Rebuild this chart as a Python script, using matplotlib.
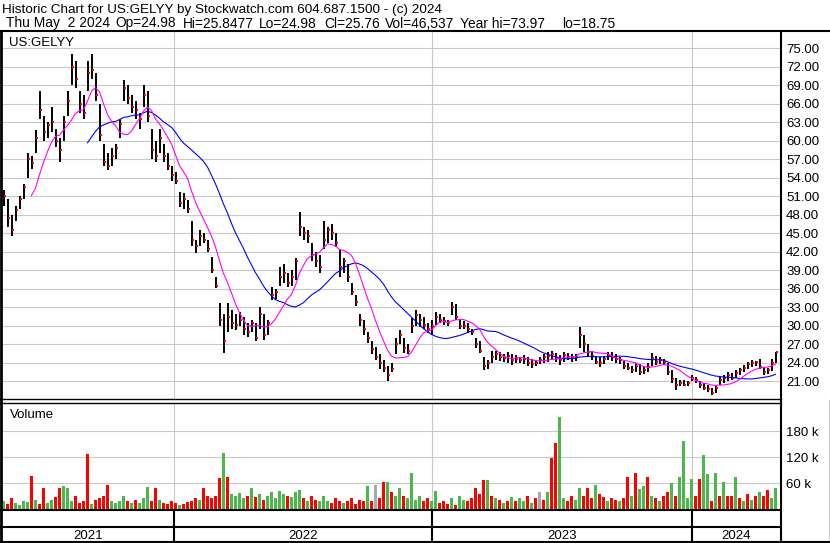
import numpy as np
import pandas as pd
import matplotlib
matplotlib.use("Agg")
import matplotlib.pyplot as plt
from matplotlib.lines import Line2D

plt.rcParams['font.family'] = ['Liberation Sans', 'DejaVu Sans']

W, H = 830, 543

# one bar every 4 trading days
highs = [52, 50.5, 48, 49.5, 51, 53, 58, 57.5, 61.8, 68,
         64, 63, 65.5, 62, 60.5, 64, 68, 74, 73, 68,
         67.5, 73, 74, 71, 66, 59.5, 58, 58.8, 59.5, 63.5,
         69.9, 69, 67.5, 66.5, 64.5, 69, 68, 62, 60, 62,
         59.5, 58, 56, 55, 51.7, 51.5, 50.4, 47, 44, 45.5,
         45, 44, 41.2, 38, 33.7, 32, 33.7, 32.6, 32, 32.2,
         31.5, 30.5, 31, 30.5, 33, 32, 31, 36.3, 36, 39.5,
         40, 38.5, 39, 41, 48.5, 46, 45.5, 43.5, 42, 41.5,
         47, 46, 46.5, 45, 42.3, 41, 40, 37, 35, 32,
         31, 29, 27.5, 26.6, 25.5, 24.5, 23.5, 24, 28, 29.3,
         28, 27, 31.3, 32.6, 32, 31.5, 30.5, 31, 32.2, 32,
         31.5, 31, 33.9, 33.5, 31, 30.8, 30.5, 29.5, 28, 27.5,
         25, 24.5, 26, 26, 25.8, 25.5, 25.8, 25.5, 25.3, 25,
         25.3, 25, 24.6, 24.5, 25, 25.5, 25.8, 26, 25.6, 25.3,
         25.8, 25.6, 25.4, 25.5, 29.9, 28.5, 27, 26, 25.2, 25,
         25.2, 25.8, 25.8, 25.4, 25, 24.3, 24, 23.5, 24, 23.8,
         23.5, 24, 25.6, 25.2, 25, 24.6, 24, 22.8, 21.5, 21.2,
         21.3, 21, 22, 21.8, 21, 20.7, 20.5, 20, 20.5, 21.8,
         22, 22.5, 22.3, 22.8, 23.2, 23.6, 24.2, 24.5, 24.3, 24.6,
         23.4, 23.2, 24.6, 25.85]
lows = [49.5, 46, 44.6, 47, 49, 50.5, 54, 55.5, 58, 63.5,
        60, 60.5, 61.5, 59, 56.5, 60, 64, 69, 68.5, 64.5,
        63.5, 68, 70, 66.5, 60, 56, 55.3, 56, 57, 60.5,
        66.5, 66, 64.5, 63.5, 62, 65.5, 63, 57, 56.5, 58,
        56.5, 55.3, 53.5, 53, 49.3, 49, 48.3, 43, 41.8, 43,
        43.5, 42, 38.5, 36.2, 30, 25.6, 29, 29.5, 29.4, 30,
        28.5, 28.2, 29, 27.5, 29.5, 27.7, 28.5, 34.2, 34.3, 36.5,
        37, 36.3, 36.5, 37.5, 44.5, 44, 43.5, 40.5, 39.5, 38.6,
        42.5, 43.5, 44, 42.8, 38, 38.5, 37.2, 35, 33.2, 30,
        28.5, 27.3, 25.5, 24.5, 23, 22.5, 21, 22.6, 25.5, 27,
        25.6, 25.5, 28.9, 30, 29.8, 29.5, 28.8, 28.6, 30.2, 30.5,
        30.2, 30, 31.8, 31, 29.5, 29.5, 28.8, 28.5, 26.5, 25.6,
        22.9, 23, 24, 24.5, 24.3, 24.2, 24, 23.7, 24, 24,
        23.8, 23.5, 23.2, 23.5, 23.8, 24, 24.2, 24.5, 24.2, 23.7,
        24.2, 24.4, 24.2, 24.3, 26.4, 25.8, 25, 24.5, 23.8, 23.4,
        23.8, 24.5, 24.3, 24, 23.8, 23, 22.8, 22.4, 22.6, 22,
        22.2, 22.5, 23.5, 23.7, 23.8, 23.7, 22, 20.8, 19.6, 20.2,
        20.2, 20.3, 21, 20.8, 20, 19.6, 19.3, 18.75, 19.2, 20.4,
        20.8, 21, 21.2, 21.5, 22, 22.5, 23, 23.4, 23.5, 23,
        22, 22.2, 22.7, 24]
closes = [51, 47.5, 45.5, 48.8, 50.5, 52.5, 57, 56.4, 60.5, 65,
          61.5, 62.5, 63, 60, 58.5, 63, 66.5, 72, 70, 66,
          64.5, 71, 71.5, 67.5, 61, 56.5, 56, 57.5, 58.8, 62.8,
          68.5, 67, 65.5, 65, 63.5, 67.5, 64, 58.5, 57.5, 60.5,
          57.5, 56, 54.5, 53.5, 50, 50.5, 49, 44, 43, 44.5,
          44, 42.5, 39, 36.5, 31, 27.5, 31.5, 30.5, 30.2, 31,
          29.5, 29, 30.5, 28, 32, 28.5, 30.5, 35, 35.5, 38,
          38.5, 37, 38, 40.5, 46, 45, 44.5, 41.5, 40.5, 39.5,
          44, 45.5, 45, 43.5, 39.5, 40.5, 38, 35.5, 33.8, 31,
          29.5, 28, 26.2, 25, 24, 23.2, 22, 23, 27, 28.5,
          26.5, 26, 30, 31.8, 31, 30.2, 29.5, 30, 31.5, 31,
          30.8, 30.5, 33, 31.5, 30, 30, 29.5, 29, 27, 26,
          23.5, 24, 25, 25.5, 25, 24.8, 25.2, 24.5, 24.6, 24.4,
          24.7, 24, 23.8, 24, 24.5, 25, 25.2, 25.5, 24.8, 24.5,
          25.3, 25, 24.8, 25.2, 28.5, 27, 25.8, 25.2, 24.2, 24,
          24.6, 25.2, 25, 24.6, 24.4, 23.5, 23.2, 22.8, 23.5, 22.6,
          22.9, 23.4, 24.8, 24.2, 24.5, 24.1, 22.5, 21.4, 20.5, 20.8,
          20.5, 20.7, 21.5, 21.2, 20.5, 20, 19.8, 19.2, 20, 21.2,
          21.5, 22, 21.6, 22.3, 22.8, 23.2, 23.8, 24, 24.1, 23.4,
          22.6, 22.8, 24, 25.76]
# volume in thousands, colour code r = down, g = up, n = unchanged
volumes_k = [20, 12, 25, 14, 10, 18, 16, 77, 22, 12,
             49, 14, 22, 28, 49, 53, 48, 20, 30, 15,
             20, 128, 12, 22, 25, 30, 56, 18, 15, 20,
             30, 18, 15, 22, 14, 25, 51, 20, 48, 22,
             15, 12, 18, 14, 10, 12, 16, 20, 25, 22,
             50, 30, 25, 30, 72, 130, 74, 35, 30, 38,
             25, 30, 50, 28, 35, 22, 30, 40, 25, 42,
             35, 30, 28, 40, 45, 25, 20, 30, 22, 18,
             30, 20, 15, 25, 20, 15, 18, 25, 12, 22,
             18, 53, 20, 55, 25, 62, 62, 40, 30, 48,
             30, 25, 84, 22, 30, 18, 25, 20, 43, 15,
             20, 12, 25, 10, 30, 22, 18, 26, 50, 35,
             68, 68, 30, 25, 22, 15, 20, 28, 18, 25,
             20, 30, 15, 25, 40, 22, 40, 118, 154, 213,
             25, 20, 30, 22, 48, 30, 50, 25, 56, 35,
             28, 20, 25, 22, 20, 25, 74, 30, 84, 47,
             54, 74, 30, 25, 20, 30, 40, 60, 30, 74,
             158, 25, 70, 30, 70, 126, 81, 20, 84, 30,
             63, 30, 30, 74, 25, 20, 35, 22, 30, 40,
             30, 45, 25, 49]
vol_dirs = ("grrggggrgr" "rggrrgggrr" "rrgrrrrggg" "grgrgggrrg" "rrrrgrrrrg"
            "rrrrrgrggg" "grgrgrgggg" "grgggrgrrg" "ggrrrgrrrr" "rgrnrrgrgg"
            "rggggrrggr" "rrgrggrrrr" "rgrgrgrgrg" "grgrnrgrrg" "grrggrrrgr"
            "rgrrgrrgrg" "grgrgrrgrg" "gggrrggrgr" "grrgrgrgrg" "rrgg")

year_starts = [172, 430, 690]
year_labels = ["2021", "2022", "2023", "2024"]
price_ticks = np.arange(21, 76, 3)
vol_ticks = [60, 120, 180]

title = "Historic Chart for US:GELYY by Stockwatch.com 604.687.1500 - (c) 2024"
quote_fields = ["Thu May  2 2024", "Op=24.98", "Hi=25.8477", "Lo=24.98",
                "Cl=25.76", "Vol=46,537", "Year hi=73.97", "lo=18.75"]
quote_x = [6, 115, 183, 259, 324, 385, 460, 562]

step = 4
n = len(closes)
x = np.arange(n) * step + 1.5
s = pd.Series(closes)
ma_fast = s.rolling(8).mean()
ma_slow = s.rolling(22).mean()


def fx(px):
    return px / W


def fy(py):
    return 1 - py / H


fig = plt.figure(figsize=(W / 100, H / 100), dpi=100)
fig.patch.set_facecolor('white')

grid_kw = dict(color='#c8c8c8', lw=0.8)

# price panel
ax = fig.add_axes([fx(2), fy(399), (781 - 2) / W, (399 - 32) / H])
ax.set_xlim(0, 779)
ax.set_ylim(18.16, 77.64)
ax.set_xticks(year_starts)
ax.set_yticks(price_ticks)
ax.set_yticklabels([f"{v:.2f}" for v in price_ticks])
ax.yaxis.tick_right()
ax.tick_params(axis='y', length=0, pad=3.6, labelsize=9.5)
ax.tick_params(axis='x', length=0, labelbottom=False)
ax.grid(True, **grid_kw)
ax.set_axisbelow(True)
for sp in ax.spines.values():
    sp.set_visible(False)

ax.vlines(x, lows, highs, color='black', lw=1.4)
ax.hlines(closes, x + 0.7, x + 2.3, color='red', lw=1.4)
ax.plot(x, ma_slow, color='#0000ff', lw=0.8)
ax.plot(x, ma_fast, color='#ff00ff', lw=0.8)

# volume panel
vax = fig.add_axes([fx(2), fy(509.3), (781 - 2) / W, (509.3 - 403) / H])
vax.set_xlim(0, 779)
vax.set_ylim(0, 245.3)
vax.set_xticks(year_starts)
vax.set_yticks(vol_ticks)
vax.set_yticklabels([f"{v} k" for v in vol_ticks])
vax.yaxis.tick_right()
vax.tick_params(axis='y', length=0, pad=3.6, labelsize=9.5)
vax.tick_params(axis='x', length=0, labelbottom=False)
vax.grid(True, **grid_kw)
vax.set_axisbelow(True)
for sp in vax.spines.values():
    sp.set_visible(False)
cmap = {'r': '#ff0000', 'g': '#4cb84c', 'n': '#a8a8a8'}
vax.bar(x, volumes_k, width=3, color=[cmap[c] for c in vol_dirs])

# frame lines (pixel coordinates)
def line(x0, y0, x1, y1, lw=1.5):
    fig.add_artist(Line2D([fx(x0), fx(x1)], [fy(y0), fy(y1)],
                          transform=fig.transFigure, color='black', lw=lw))

line(0, 31, 830, 31)
line(0, 399, 781, 399, 1.0)
line(0, 403, 781, 403, 1.0)
line(0, 510, 781, 510)
line(0, 527, 781, 527)
line(0, 542, 830, 542)
line(1, 31, 1, 543, 2.0)
line(781, 31, 781, 543)
line(829.5, 400, 829.5, 543, 1.0)
for d in year_starts:
    line(d + 2, 510, d + 2, 542)

# texts
fig.text(fx(2), fy(13), title, fontsize=9.7, va='baseline')
for txt, px in zip(quote_fields, quote_x):
    fig.text(fx(px), fy(27.5), txt, fontsize=9.9, va='baseline')
fig.text(fx(9), fy(45.5), "US:GELYY", fontsize=9.5, va='baseline')
fig.text(fx(10), fy(417.5), "Volume", fontsize=9.5, va='baseline')
bounds = [0] + year_starts + [779]
for i, lab in enumerate(year_labels):
    cx = (bounds[i] + bounds[i + 1]) / 2 + 2
    fig.text(fx(cx), fy(539.3), lab, fontsize=9.5, va='baseline', ha='center')

fig.savefig("out.png", dpi=100)
